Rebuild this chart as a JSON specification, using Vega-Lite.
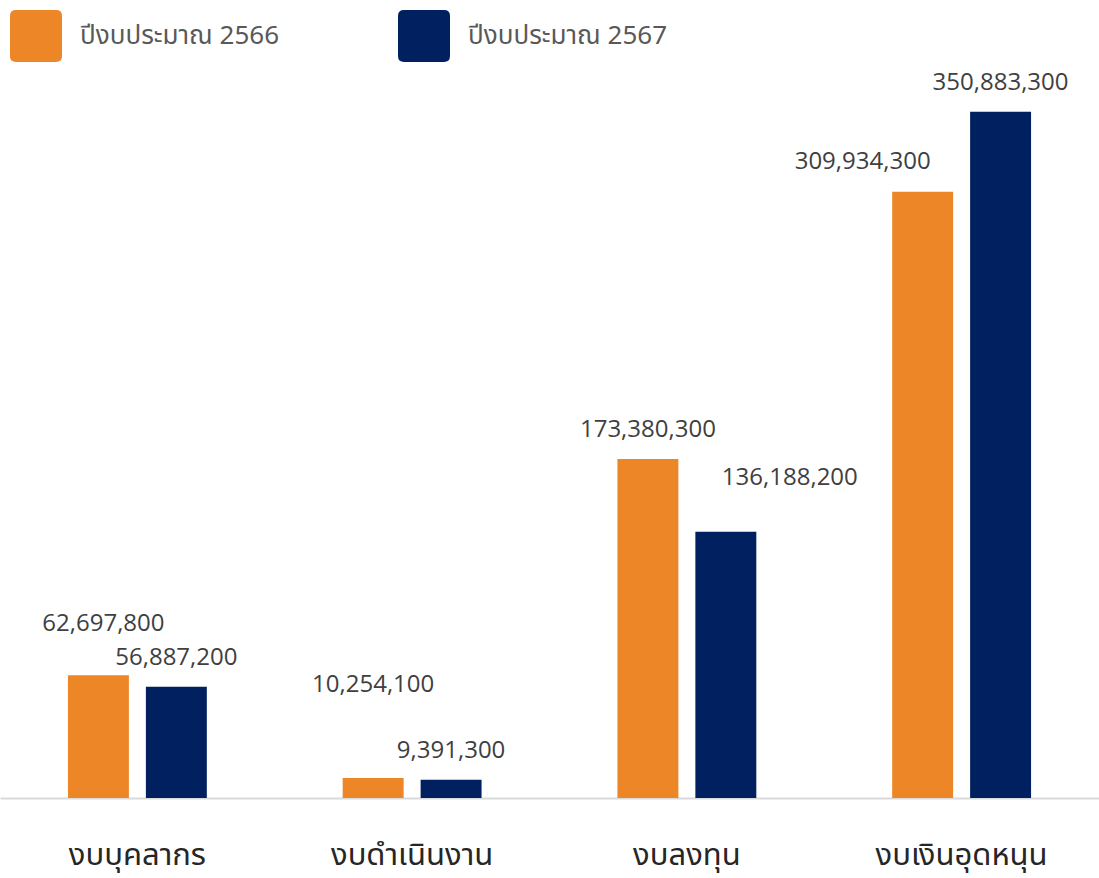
{
  "$schema": "https://vega.github.io/schema/vega-lite/v6.json",
  "width": 1099,
  "height": 798,
  "autosize": {"type": "none"},
  "padding": {"left": 0, "right": 0, "top": 0, "bottom": 80},
  "background": "white",
  "config": {"view": {"stroke": null}},
  "data": {
    "values": [
      {"category": "งบบุคลากร", "year": "ปีงบประมาณ 2566", "value": 62697800},
      {"category": "งบบุคลากร", "year": "ปีงบประมาณ 2567", "value": 56887200},
      {"category": "งบดำเนินงาน", "year": "ปีงบประมาณ 2566", "value": 10254100},
      {"category": "งบดำเนินงาน", "year": "ปีงบประมาณ 2567", "value": 9391300},
      {"category": "งบลงทุน", "year": "ปีงบประมาณ 2566", "value": 173380300},
      {"category": "งบลงทุน", "year": "ปีงบประมาณ 2567", "value": 136188200},
      {"category": "งบเงินอุดหนุน", "year": "ปีงบประมาณ 2566", "value": 309934300},
      {"category": "งบเงินอุดหนุน", "year": "ปีงบประมาณ 2567", "value": 350883300}
    ]
  },
  "encoding": {
    "x": {
      "field": "category",
      "type": "nominal",
      "sort": null,
      "title": null,
      "scale": {"paddingInner": 0.4945, "paddingOuter": 0.2473},
      "axis": {
        "labelAngle": 0,
        "labelFontSize": 31,
        "labelLimit": 400,
        "labelColor": "#262626",
        "labelFont": "Noto Sans Thai, Noto Sans, sans-serif",
        "labelPadding": 42,
        "ticks": false,
        "domainColor": "#d9d9d9",
        "domainWidth": 2,
        "grid": false
      }
    },
    "xOffset": {
      "field": "year",
      "type": "nominal",
      "sort": null,
      "scale": {"paddingInner": 0.218, "paddingOuter": 0}
    },
    "y": {
      "field": "value",
      "type": "quantitative",
      "scale": {"domain": [0, 408000000], "nice": false},
      "axis": null
    }
  },
  "layer": [
    {
      "mark": {"type": "bar"},
      "encoding": {
        "color": {
          "field": "year",
          "type": "nominal",
          "sort": null,
          "scale": {
            "domain": ["ปีงบประมาณ 2566", "ปีงบประมาณ 2567"],
            "range": ["#ED8626", "#002060"]
          },
          "legend": {
            "title": null,
            "orient": "none",
            "legendX": 10,
            "legendY": 10,
            "direction": "horizontal",
            "symbolType": "M -0.77 -1 L 0.77 -1 Q 1 -1 1 -0.77 L 1 0.77 Q 1 1 0.77 1 L -0.77 1 Q -1 1 -1 0.77 L -1 -0.77 Q -1 -1 -0.77 -1 Z",
            "symbolSize": 2704,
            "symbolStrokeWidth": 0,
            "symbolOpacity": 1,
            "labelFontSize": 26,
            "labelLimit": 400,
            "labelColor": "#595959",
            "labelFont": "Noto Sans Thai, Noto Sans, sans-serif",
            "labelOffset": 18,
            "columnPadding": 118
          }
        }
      }
    },
    {
      "transform": [{"filter": "datum.value != 62697800 && datum.value != 10254100 && datum.value != 136188200 && datum.value != 309934300"}],
      "mark": {"type": "text", "dy": -29, "baseline": "middle", "align": "center", "fontSize": 24, "font": "Open Sans", "color": "#404040"},
      "encoding": {"text": {"field": "value", "type": "quantitative", "format": ","}}
    },
    {
      "transform": [{"filter": "datum.value == 62697800"}],
      "mark": {"type": "text", "dx": 5, "dy": -51, "baseline": "middle", "align": "center", "fontSize": 24, "font": "Open Sans", "color": "#404040"},
      "encoding": {"text": {"field": "value", "type": "quantitative", "format": ","}}
    },
    {
      "transform": [{"filter": "datum.value == 10254100"}],
      "mark": {"type": "text", "dy": -93, "baseline": "middle", "align": "center", "fontSize": 24, "font": "Open Sans", "color": "#404040"},
      "encoding": {"text": {"field": "value", "type": "quantitative", "format": ","}}
    },
    {
      "transform": [{"filter": "datum.value == 136188200"}],
      "mark": {"type": "text", "dx": 64, "dy": -54, "baseline": "middle", "align": "center", "fontSize": 24, "font": "Open Sans", "color": "#404040"},
      "encoding": {"text": {"field": "value", "type": "quantitative", "format": ","}}
    },
    {
      "transform": [{"filter": "datum.value == 309934300"}],
      "mark": {"type": "text", "dx": -60, "dy": -30, "baseline": "middle", "align": "center", "fontSize": 24, "font": "Open Sans", "color": "#404040"},
      "encoding": {"text": {"field": "value", "type": "quantitative", "format": ","}}
    }
  ]
}
